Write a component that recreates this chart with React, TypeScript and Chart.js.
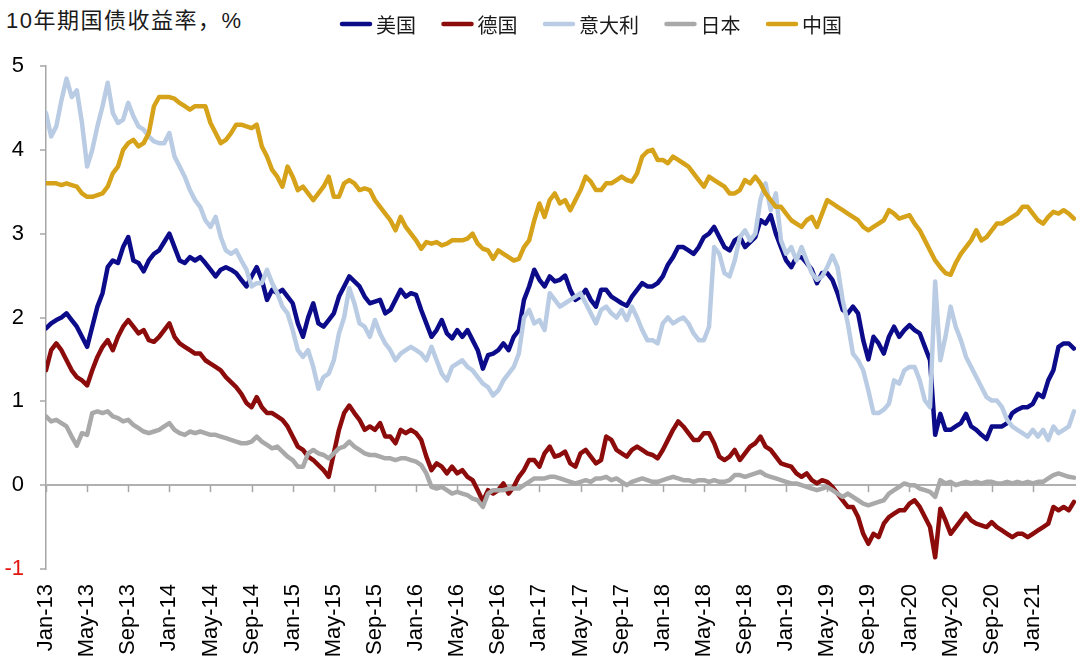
import React, { useEffect, useRef } from 'react';
import { Chart, registerables } from 'chart.js';

Chart.register(...registerables);

const TITLE = '10年期国债收益率，%';
const seriesNames = ['美国', '德国', '意大利', '日本', '中国'];
const seriesColors = ['#0c0c8a', '#8c0b0b', '#b9cce4', '#a9a9a9', '#d6a219'];
const monthNames = ['Jan', 'Feb', 'Mar', 'Apr', 'May', 'Jun', 'Jul', 'Aug', 'Sep', 'Oct', 'Nov', 'Dec'];
const startYear = 13; // Jan-13 = month 0
const tickMonths = [0, 4, 8, 12, 16, 20, 24, 28, 32, 36, 40, 44, 48, 52, 56, 60, 64, 68, 72, 76, 80, 84, 88, 92, 96];
const samplesPerMonth = 2; // half-month sampling from Jan-13

// 美国 10Y yield, %
const usYield = [
  1.87, 1.93, 1.97, 2.0, 2.05, 1.97, 1.89, 1.77, 1.65, 1.89,
  2.13, 2.29, 2.6, 2.68, 2.65, 2.84, 2.96, 2.68, 2.65, 2.55,
  2.68, 2.76, 2.8, 2.9, 3.0, 2.84, 2.68, 2.65, 2.72, 2.68,
  2.72, 2.65, 2.57, 2.49, 2.57, 2.6, 2.57, 2.53, 2.45, 2.37,
  2.49, 2.6, 2.45, 2.21, 2.33, 2.29, 2.33, 2.25, 2.17, 1.93,
  1.77, 2.0, 2.17, 1.93, 1.89, 1.97, 2.05, 2.25, 2.37, 2.49,
  2.43, 2.37, 2.25, 2.17, 2.19, 2.21, 2.05, 2.09, 2.21, 2.33,
  2.25, 2.29, 2.27, 2.09, 1.93, 1.77, 1.85, 1.97, 1.81, 1.75,
  1.85, 1.77, 1.85, 1.73, 1.61, 1.39, 1.55, 1.57, 1.61, 1.69,
  1.61, 1.77, 1.85, 2.21, 2.37, 2.57, 2.45, 2.37, 2.49, 2.43,
  2.45, 2.5, 2.33, 2.21, 2.25, 2.33, 2.21, 2.13, 2.33, 2.33,
  2.25, 2.21, 2.17, 2.14, 2.25, 2.33, 2.41, 2.37, 2.37, 2.41,
  2.49, 2.63, 2.72, 2.84, 2.84, 2.8, 2.76, 2.84, 2.96, 3.0,
  3.08, 2.96, 2.84, 2.8, 2.92, 2.96, 2.84, 2.9, 2.96, 3.16,
  3.12, 3.22, 3.0, 2.84, 2.68, 2.6, 2.72, 2.72, 2.65, 2.57,
  2.41, 2.53, 2.53, 2.45, 2.29, 2.09, 2.05, 2.13, 2.05, 1.73,
  1.5, 1.77, 1.69, 1.57, 1.77, 1.89, 1.77, 1.85, 1.91, 1.85,
  1.81, 1.65, 1.49, 0.6, 0.85, 0.66, 0.66, 0.7, 0.74, 0.85,
  0.7, 0.66, 0.6, 0.55, 0.7, 0.7, 0.7, 0.74, 0.86, 0.9,
  0.93, 0.93, 0.97, 1.09, 1.05, 1.25, 1.37, 1.65, 1.69, 1.69,
  1.63,
];

// 德国 10Y yield, %
const deYield = [
  1.37, 1.61, 1.69, 1.61, 1.49, 1.37, 1.29, 1.25, 1.19, 1.37,
  1.53, 1.65, 1.73, 1.61, 1.77, 1.89, 1.97, 1.89, 1.81, 1.85,
  1.73, 1.71, 1.77, 1.85, 1.93, 1.77, 1.69, 1.65, 1.61, 1.57,
  1.57, 1.49, 1.45, 1.41, 1.37, 1.29, 1.23, 1.17, 1.09, 0.98,
  0.93, 1.05, 0.93, 0.86, 0.86, 0.82, 0.78, 0.7, 0.58, 0.46,
  0.42, 0.34, 0.3, 0.24, 0.18, 0.1, 0.38, 0.66, 0.86, 0.95,
  0.86, 0.78, 0.66, 0.7, 0.66, 0.74, 0.58, 0.58, 0.5, 0.66,
  0.62, 0.66, 0.62, 0.54, 0.34, 0.18, 0.26, 0.22, 0.14, 0.22,
  0.14, 0.18, 0.1, 0.06, -0.06, -0.19, -0.06, -0.1, -0.06, 0.02,
  -0.1, -0.02, 0.1, 0.18, 0.3, 0.3, 0.22, 0.38, 0.46, 0.34,
  0.36, 0.4, 0.26, 0.22, 0.38, 0.42, 0.34, 0.26, 0.3, 0.58,
  0.54, 0.42, 0.38, 0.34, 0.42, 0.46, 0.42, 0.38, 0.36, 0.32,
  0.42, 0.54, 0.66, 0.76, 0.7, 0.62, 0.54, 0.54, 0.62, 0.62,
  0.5, 0.34, 0.3, 0.34, 0.42, 0.3, 0.38, 0.46, 0.5, 0.58,
  0.46, 0.42, 0.34, 0.26, 0.24, 0.22, 0.14, 0.1, 0.14, 0.06,
  0.02, 0.06, 0.04, -0.02, -0.1, -0.18, -0.26, -0.26, -0.38, -0.58,
  -0.7, -0.58, -0.62, -0.46, -0.38, -0.34, -0.3, -0.3, -0.22, -0.18,
  -0.26, -0.38, -0.5, -0.86, -0.28, -0.42, -0.58, -0.5, -0.42, -0.34,
  -0.42, -0.46, -0.48, -0.5, -0.44, -0.5, -0.54, -0.58, -0.62, -0.58,
  -0.58, -0.62, -0.58, -0.54, -0.5, -0.46, -0.26, -0.3, -0.26, -0.3,
  -0.2,
];

// 意大利 10Y yield, %
const itYield = [
  4.44, 4.16, 4.28, 4.59, 4.85, 4.63, 4.71, 4.32, 3.8, 4.0,
  4.28, 4.52, 4.8, 4.44, 4.32, 4.36, 4.56, 4.4, 4.28, 4.24,
  4.16, 4.1, 4.08, 4.08, 4.2, 3.92, 3.8, 3.68, 3.52, 3.4,
  3.32, 3.16, 3.08, 3.2, 2.96, 2.8, 2.76, 2.8, 2.68, 2.57,
  2.37, 2.41, 2.41, 2.57, 2.41, 2.29, 2.13, 2.05, 1.85, 1.61,
  1.53, 1.61, 1.41, 1.15, 1.29, 1.33, 1.49, 1.81, 2.0, 2.35,
  2.17, 1.93, 1.89, 1.77, 1.97, 1.81, 1.69, 1.61, 1.49, 1.57,
  1.61, 1.65, 1.61, 1.57, 1.49, 1.65, 1.49, 1.33, 1.25, 1.41,
  1.45, 1.49, 1.41, 1.37, 1.29, 1.21, 1.17, 1.07, 1.13, 1.25,
  1.33, 1.41, 1.57, 2.0, 2.09, 1.93, 1.97, 1.85, 2.29, 2.21,
  2.13, 2.17, 2.21, 2.25, 2.29, 2.17, 2.05, 1.93, 2.09, 2.13,
  2.05, 2.0, 2.09, 1.97, 2.13, 2.0, 1.85, 1.73, 1.73, 1.69,
  1.93, 2.0, 1.93, 1.97, 2.0, 1.93, 1.81, 1.73, 1.73, 1.89,
  2.84, 2.76, 2.53, 2.49, 2.68, 2.96, 3.04, 2.92, 3.0, 3.4,
  3.6, 3.28, 3.48, 2.92, 2.76, 2.84, 2.68, 2.84, 2.68, 2.53,
  2.45, 2.49, 2.6, 2.74, 2.6, 2.21, 1.93, 1.57, 1.49, 1.37,
  1.13, 0.86, 0.86, 0.9, 0.97, 1.25, 1.21, 1.37, 1.41, 1.41,
  1.25, 1.01, 0.93, 2.43, 1.49, 1.77, 2.13, 1.89, 1.73, 1.53,
  1.41, 1.29, 1.17, 1.05, 1.01, 1.01, 0.93, 0.78, 0.7, 0.66,
  0.62, 0.58, 0.66, 0.58, 0.66, 0.54, 0.7, 0.62, 0.66, 0.7,
  0.88,
];

// 日本 10Y yield, %
const jpYield = [
  0.82, 0.76, 0.78, 0.74, 0.7, 0.58, 0.47, 0.62, 0.6, 0.86,
  0.88, 0.86, 0.88, 0.82, 0.8, 0.76, 0.78, 0.72, 0.68, 0.64,
  0.62, 0.64, 0.66, 0.7, 0.74, 0.66, 0.62, 0.6, 0.64, 0.62,
  0.64, 0.62, 0.6, 0.6, 0.58, 0.56, 0.54, 0.52, 0.5, 0.5,
  0.52, 0.58, 0.52, 0.48, 0.44, 0.46, 0.4, 0.34, 0.3, 0.22,
  0.22, 0.38, 0.42, 0.38, 0.36, 0.32, 0.38, 0.44, 0.46, 0.52,
  0.46, 0.42, 0.38, 0.36, 0.36, 0.34, 0.32, 0.32, 0.3, 0.32,
  0.32, 0.3, 0.28, 0.24, 0.14, -0.02, -0.04, -0.02, -0.06, -0.1,
  -0.08, -0.1, -0.12, -0.16, -0.18, -0.26, -0.1, -0.06, -0.06, -0.06,
  -0.04, -0.04, -0.04, 0.0, 0.04, 0.08, 0.08, 0.08, 0.1, 0.1,
  0.08, 0.06, 0.04, 0.02, 0.04, 0.06, 0.04, 0.08, 0.08, 0.1,
  0.06, 0.08, 0.04, 0.0, 0.04, 0.06, 0.08, 0.06, 0.04, 0.04,
  0.06, 0.08, 0.1, 0.08, 0.06, 0.06, 0.04, 0.06, 0.06, 0.04,
  0.06, 0.04, 0.04, 0.06, 0.12, 0.12, 0.1, 0.12, 0.14, 0.16,
  0.12, 0.1, 0.08, 0.06, 0.04, 0.02, 0.02, 0.0, -0.02, -0.04,
  -0.06, -0.04, -0.02, -0.06, -0.1, -0.14, -0.1, -0.14, -0.18, -0.22,
  -0.24, -0.22, -0.2, -0.18, -0.1, -0.06, -0.02, 0.02, 0.0, 0.0,
  -0.04, -0.06, -0.08, -0.14, 0.06, 0.02, 0.04, 0.0, 0.02, 0.04,
  0.02, 0.04, 0.02, 0.04, 0.04, 0.02, 0.02, 0.04, 0.02, 0.04,
  0.02, 0.04, 0.02, 0.04, 0.04, 0.08, 0.12, 0.14, 0.12, 0.1,
  0.09,
];

// 中国 10Y yield, %
const cnYield = [
  3.6, 3.6, 3.6, 3.58, 3.6, 3.58, 3.56, 3.48, 3.44, 3.44,
  3.46, 3.48, 3.56, 3.72, 3.8, 4.0, 4.08, 4.12, 4.04, 4.08,
  4.2, 4.52, 4.63, 4.63, 4.63, 4.61, 4.56, 4.52, 4.48, 4.52,
  4.52, 4.52, 4.32, 4.2, 4.08, 4.12, 4.2, 4.3, 4.3, 4.28,
  4.26, 4.3, 4.04, 3.92, 3.76, 3.68, 3.56, 3.8, 3.68, 3.52,
  3.56, 3.48, 3.4, 3.48, 3.56, 3.68, 3.44, 3.44, 3.6, 3.64,
  3.6, 3.52, 3.54, 3.52, 3.4, 3.32, 3.24, 3.16, 3.04, 3.2,
  3.08, 3.0, 2.92, 2.82, 2.9, 2.88, 2.9, 2.86, 2.88, 2.92,
  2.92, 2.92, 2.94, 3.0, 2.88, 2.82, 2.8, 2.7, 2.8, 2.76,
  2.72, 2.68, 2.7, 2.84, 2.92, 3.16, 3.36, 3.2, 3.4, 3.48,
  3.36, 3.4, 3.28, 3.4, 3.52, 3.68, 3.62, 3.52, 3.52, 3.6,
  3.6, 3.64, 3.68, 3.64, 3.62, 3.72, 3.92, 3.98, 4.0, 3.88,
  3.88, 3.84, 3.92, 3.88, 3.84, 3.8, 3.72, 3.64, 3.56, 3.68,
  3.64, 3.6, 3.56, 3.48, 3.48, 3.52, 3.64, 3.6, 3.68, 3.6,
  3.48, 3.4, 3.32, 3.32, 3.24, 3.16, 3.12, 3.08, 3.16, 3.2,
  3.08, 3.24, 3.4, 3.36, 3.32, 3.28, 3.24, 3.2, 3.16, 3.08,
  3.04, 3.08, 3.12, 3.16, 3.28, 3.24, 3.18, 3.2, 3.22, 3.12,
  3.04, 2.92, 2.8, 2.68, 2.6, 2.53, 2.51, 2.65, 2.76, 2.84,
  2.92, 3.04, 2.92, 2.96, 3.04, 3.12, 3.12, 3.16, 3.2, 3.24,
  3.32, 3.32, 3.24, 3.16, 3.12, 3.2, 3.26, 3.24, 3.28, 3.24,
  3.18,
];

const seriesValues = [usYield, deYield, itYield, jpYield, cnYield];

const AXIS_GRAY = '#a6a6a6';
const LABEL_FONT = "'Liberation Sans', Arial, sans-serif";
const CJK_FONT = "'Noto Sans CJK SC', sans-serif";

function monthLabel(m: number): string {
  const mi = Math.round(m);
  const yy = startYear + Math.floor(mi / 12);
  return `${monthNames[mi % 12]}-${String(yy).padStart(2, '0')}`;
}

const legendPlugin = {
  id: 'topLegend',
  afterDraw(chart: any) {
    const ctx = chart.ctx;
    ctx.save();
    ctx.font = `20px ${CJK_FONT}`;
    ctx.textBaseline = 'middle';
    ctx.textAlign = 'left';
    let x = 340;
    const y = 24;
    chart.data.datasets.forEach((ds: any) => {
      ctx.strokeStyle = ds.borderColor;
      ctx.lineWidth = 4.5;
      ctx.lineCap = 'round';
      ctx.beginPath();
      ctx.moveTo(x + 2, y);
      ctx.lineTo(x + 30, y);
      ctx.stroke();
      ctx.fillStyle = '#1a1a1a';
      ctx.fillText(ds.label, x + 36, y + 1);
      x += 36 + ctx.measureText(ds.label).width + 25.5;
    });
    ctx.restore();
  },
};

const zeroAxisTicksPlugin = {
  id: 'zeroAxisTicks',
  beforeDatasetsDraw(chart: any) {
    const { ctx, scales } = chart;
    const xs = scales.x;
    const ys = scales.y;
    const y0 = ys.getPixelForValue(0);
    ctx.save();
    ctx.strokeStyle = AXIS_GRAY;
    ctx.lineWidth = 1.5;
    tickMonths.forEach((m) => {
      const px = Math.round(xs.getPixelForValue(m)) + 0.5;
      ctx.beginPath();
      ctx.moveTo(px, y0);
      ctx.lineTo(px, y0 + 7);
      ctx.stroke();
    });
    ctx.restore();
  },
};

export default function App() {
  const canvasRef = useRef<HTMLCanvasElement | null>(null);

  useEffect(() => {
    if (!canvasRef.current) return;
    const datasets = seriesNames.map((name, i) => ({
      label: name,
      data: seriesValues[i].map((v, j) => ({ x: j / samplesPerMonth, y: v })),
      borderColor: seriesColors[i],
      backgroundColor: seriesColors[i],
      borderWidth: 4.5,
      pointRadius: 0,
      tension: 0,
      borderJoinStyle: 'round' as const,
      borderCapStyle: 'round' as const,
      order: seriesNames.length - 1 - i,
    }));

    const chart = new Chart(canvasRef.current, {
      type: 'line',
      data: { datasets },
      options: {
        responsive: false,
        animation: false,
        layout: { padding: { top: 66, right: 4, left: 0, bottom: 0 } },
        plugins: {
          legend: { display: false },
          title: { display: false },
          tooltip: { enabled: false },
        },
        scales: {
          x: {
            type: 'linear',
            min: 0,
            max: 100.2,
            grid: { display: false, drawTicks: false },
            border: { display: false },
            afterBuildTicks: (s: any) => {
              s.ticks = tickMonths.map((v) => ({ value: v }));
            },
            afterFit: (s: any) => {
              s.height = 95;
            },
            ticks: {
              autoSkip: false,
              minRotation: 90,
              maxRotation: 90,
              padding: 15,
              color: '#000',
              font: { family: LABEL_FONT, size: 22 },
              callback: (v: any) => monthLabel(Number(v)),
            },
          },
          y: {
            min: -1,
            max: 5,
            afterFit: (s: any) => {
              s.width = 46;
            },
            ticks: {
              stepSize: 1,
              padding: 16,
              color: (ctx: any) => (ctx.tick && ctx.tick.value === -1 ? '#e3140e' : '#000'),
              font: { family: LABEL_FONT, size: 22 },
            },
            grid: {
              color: (ctx: any) => (ctx.tick && ctx.tick.value === 0 ? '#b0b0b0' : 'rgba(0,0,0,0)'),
              lineWidth: 2,
              tickLength: 6,
              tickColor: AXIS_GRAY,
              tickWidth: 1.5,
            },
            border: { display: true, color: AXIS_GRAY, width: 1.5 },
          },
        },
      },
      plugins: [zeroAxisTicksPlugin, legendPlugin],
    } as any);

    return () => chart.destroy();
  }, []);

  return (
    <div style={{ position: 'fixed', left: 0, top: 0, width: 1080, height: 664, background: '#fff' }}>
      <div
        style={{
          position: 'absolute',
          left: 6,
          top: 8,
          fontFamily: `'Liberation Sans', 'Noto Sans CJK SC', sans-serif`,
          fontSize: 22,
          letterSpacing: '1.5px',
          lineHeight: '26px',
          color: '#1a1a1a',
          whiteSpace: 'nowrap',
        }}
      >
        {TITLE}
      </div>
      <canvas
        ref={canvasRef}
        width={1080}
        height={664}
        style={{ position: 'absolute', left: 0, top: 0, width: 1080, height: 664 }}
      />
    </div>
  );
}
